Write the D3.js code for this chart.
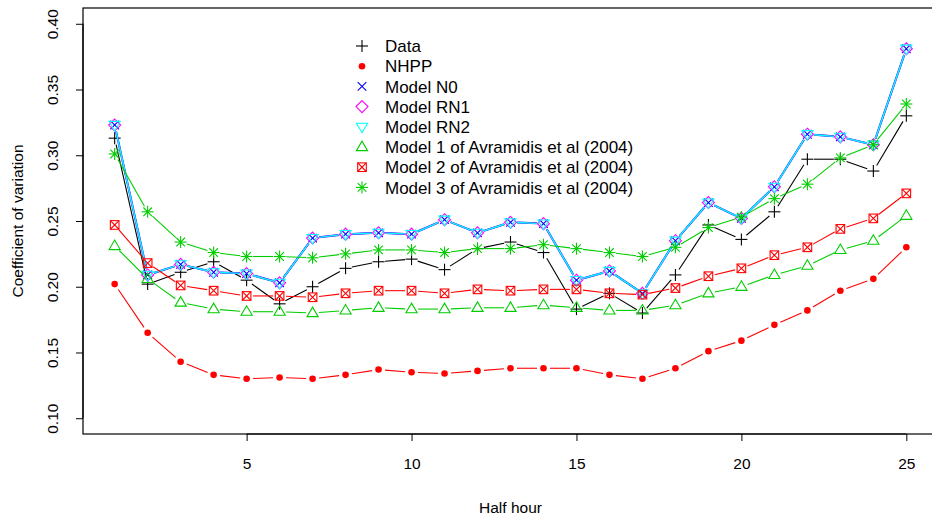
<!DOCTYPE html>
<html>
<head>
<meta charset="utf-8">
<script src="https://cdn.jsdelivr.net/npm/d3@7"></script>
<style>
  html, body { margin: 0; padding: 0; background: #fff; }
  svg { display: block; }
  text { font-family: "Liberation Sans", Arial, Helvetica, sans-serif; fill: #000; }
</style>
</head>
<body>
<svg id="chart" width="932" height="522"></svg>
<script>
const halfHour = d3.range(1, 26);
const xTicks = [5, 10, 15, 20, 25];
const yTicks = [0.10, 0.15, 0.20, 0.25, 0.30, 0.35, 0.40];

const dataCV = [0.313, 0.202, 0.211, 0.219, 0.205, 0.187, 0.200, 0.214, 0.219, 0.221, 0.213, 0.229, 0.234, 0.226, 0.183, 0.195, 0.180, 0.209, 0.247, 0.236, 0.257, 0.297, 0.297, 0.288, 0.330];
const nhpp = [0.202, 0.165, 0.143, 0.133, 0.130, 0.131, 0.130, 0.133, 0.137, 0.135, 0.134, 0.136, 0.138, 0.138, 0.138, 0.133, 0.130, 0.138, 0.151, 0.159, 0.171, 0.182, 0.197, 0.206, 0.230];
const modelN0 = [0.323, 0.209, 0.217, 0.211, 0.210, 0.203, 0.237, 0.240, 0.241, 0.240, 0.251, 0.241, 0.249, 0.248, 0.205, 0.212, 0.195, 0.235, 0.264, 0.252, 0.276, 0.316, 0.314, 0.308, 0.381];
const modelRN1 = [0.323, 0.209, 0.217, 0.211, 0.210, 0.203, 0.237, 0.240, 0.241, 0.240, 0.251, 0.241, 0.249, 0.248, 0.205, 0.212, 0.195, 0.235, 0.264, 0.252, 0.276, 0.316, 0.314, 0.308, 0.381];
const modelRN2 = [0.323, 0.209, 0.217, 0.211, 0.210, 0.203, 0.237, 0.240, 0.241, 0.240, 0.251, 0.241, 0.249, 0.248, 0.205, 0.212, 0.195, 0.235, 0.264, 0.252, 0.276, 0.316, 0.314, 0.308, 0.381];
const avr1 = [0.231, 0.206, 0.188, 0.183, 0.181, 0.181, 0.180, 0.182, 0.184, 0.183, 0.183, 0.184, 0.184, 0.186, 0.184, 0.182, 0.182, 0.186, 0.195, 0.200, 0.209, 0.216, 0.228, 0.235, 0.254];
const avr2 = [0.247, 0.218, 0.201, 0.197, 0.193, 0.193, 0.192, 0.195, 0.197, 0.197, 0.195, 0.198, 0.197, 0.198, 0.198, 0.195, 0.194, 0.199, 0.208, 0.214, 0.224, 0.230, 0.244, 0.252, 0.271];
const avr3 = [0.301, 0.257, 0.234, 0.226, 0.223, 0.223, 0.222, 0.225, 0.228, 0.228, 0.226, 0.229, 0.229, 0.232, 0.229, 0.226, 0.223, 0.230, 0.245, 0.253, 0.267, 0.278, 0.298, 0.308, 0.339];

const seriesNames = ["Data", "NHPP", "Model N0", "Model RN1", "Model RN2",
  "Model 1 of Avramidis et al (2004)", "Model 2 of Avramidis et al (2004)", "Model 3 of Avramidis et al (2004)"];
const seriesValues = [dataCV, nhpp, modelN0, modelRN1, modelRN2, avr1, avr2, avr3];
const seriesColors = ["#000000", "#FF0000", "#0000FF", "#FF00FF", "#00FFFF", "#00CD00", "#FF0000", "#00CD00"];
const seriesShapes = ["plus", "dot", "cross", "diamond", "tridown", "triup", "boxx", "star"];

const svg = d3.select("#chart");
const L = 83, R = 938, T = 8, B = 434;
const x = d3.scaleLinear().domain([0.04, 25.96]).range([L, R]);
const y = d3.scaleLinear().domain([0.088, 0.412]).range([B, T]);

function marker(g, shape, cx, cy, color) {
  const sw = 1.1;
  const line = (x1, y1, x2, y2) => g.append("line").attr("x1", cx + x1).attr("y1", cy + y1)
    .attr("x2", cx + x2).attr("y2", cy + y2).attr("stroke", color).attr("stroke-width", sw);
  if (shape === "plus") { line(-6, 0, 6, 0); line(0, -6, 0, 6); }
  else if (shape === "dot") { g.append("circle").attr("cx", cx).attr("cy", cy).attr("r", 3.3).attr("fill", color); }
  else if (shape === "cross") { line(-4.3, -4.3, 4.3, 4.3); line(-4.3, 4.3, 4.3, -4.3); }
  else if (shape === "diamond") {
    g.append("path").attr("d", `M${cx},${cy - 6}L${cx + 6},${cy}L${cx},${cy + 6}L${cx - 6},${cy}Z`)
      .attr("fill", "none").attr("stroke", color).attr("stroke-width", sw);
  } else if (shape === "tridown") {
    g.append("path").attr("d", `M${cx - 5.6},${cy - 3.6}L${cx + 5.6},${cy - 3.6}L${cx},${cy + 5.9}Z`)
      .attr("fill", "none").attr("stroke", color).attr("stroke-width", sw);
  } else if (shape === "triup") {
    g.append("path").attr("d", `M${cx - 5.6},${cy + 3.6}L${cx + 5.6},${cy + 3.6}L${cx},${cy - 5.9}Z`)
      .attr("fill", "none").attr("stroke", color).attr("stroke-width", sw);
  } else if (shape === "boxx") {
    g.append("rect").attr("x", cx - 4.3).attr("y", cy - 4.3).attr("width", 8.6).attr("height", 8.6)
      .attr("fill", "none").attr("stroke", color).attr("stroke-width", sw);
    line(-4.3, -4.3, 4.3, 4.3); line(-4.3, 4.3, 4.3, -4.3);
  } else if (shape === "star") {
    line(-6, 0, 6, 0); line(0, -6, 0, 6); line(-4.3, -4.3, 4.3, 4.3); line(-4.3, 4.3, 4.3, -4.3);
  }
}

// plot box
svg.append("rect").attr("x", L).attr("y", T).attr("width", R - L).attr("height", B - T)
  .attr("fill", "none").attr("stroke", "#000").attr("stroke-width", 1.2);

// series (type = "b": segments with gaps around points)
const gap = 6.5;
const lineWidths = [1.1, 1.1, 2.0, 1.1, 1.4, 1.1, 1.1, 1.1];
const plotG = svg.append("g");
seriesValues.forEach((vals, si) => {
  const g = plotG.append("g");
  const color = seriesColors[si];
  const pts = halfHour.map((h, i) => [x(h), y(vals[i])]);
  for (let i = 0; i < pts.length - 1; i++) {
    const [x1, y1] = pts[i], [x2, y2] = pts[i + 1];
    const len = Math.hypot(x2 - x1, y2 - y1);
    if (len <= 2 * gap) continue;
    const ux = (x2 - x1) / len, uy = (y2 - y1) / len;
    g.append("line").attr("x1", x1 + ux * gap).attr("y1", y1 + uy * gap)
      .attr("x2", x2 - ux * gap).attr("y2", y2 - uy * gap)
      .attr("stroke", color).attr("stroke-width", lineWidths[si]);
  }
  pts.forEach(p => marker(g, seriesShapes[si], p[0], p[1], color));
});

// axes
const xAxis = svg.append("g").attr("transform", `translate(0,${B})`)
  .call(d3.axisBottom(x).tickValues(xTicks).tickSize(7).tickPadding(17).tickFormat(d3.format("d")));
xAxis.select(".domain").attr("d", `M${x(5)},0H${x(25)}`).attr("stroke-width", 1.2);
xAxis.selectAll("text").attr("font-size", 15.5).attr("font-family", "Liberation Sans, Arial, sans-serif");

const yAxis = svg.append("g").attr("transform", `translate(${L},0)`)
  .call(d3.axisLeft(y).tickValues(yTicks).tickSize(7).tickFormat(d3.format(".2f")));
yAxis.select(".domain").attr("d", `M0,${y(0.10)}V${y(0.40)}`).attr("stroke-width", 1.2);
yAxis.selectAll(".tick text").attr("font-size", 15.5).attr("font-family", "Liberation Sans, Arial, sans-serif")
  .attr("text-anchor", "middle").attr("x", null).attr("y", 0).attr("dy", "0.35em")
  .attr("transform", "translate(-30,0) rotate(-90)");

// axis titles
svg.append("text").attr("x", (L + R) / 2).attr("y", 513).attr("text-anchor", "middle")
  .attr("font-size", 15.5).text("Half hour");
svg.append("text").attr("transform", `translate(23,${(T + B) / 2}) rotate(-90)`)
  .attr("text-anchor", "middle").attr("font-size", 15.5).text("Coefficient of variation");

// legend
const legG = svg.append("g");
seriesNames.forEach((name, i) => {
  const ly = 46 + i * 20.2;
  marker(legG, seriesShapes[i], 362, ly, seriesColors[i]);
  legG.append("text").attr("x", 385).attr("y", ly).attr("dy", "0.36em")
    .attr("font-size", 17).text(name);
});
</script>
</body>
</html>
